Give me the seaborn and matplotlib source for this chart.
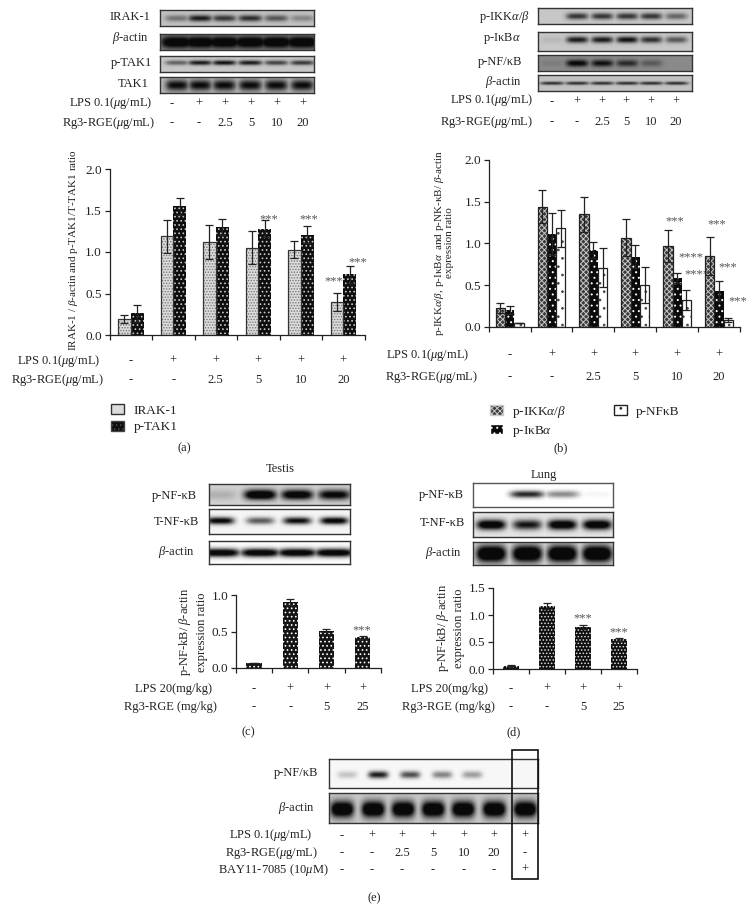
import numpy as np
import pandas as pd
import matplotlib
matplotlib.use("Agg")
import matplotlib.pyplot as plt
from matplotlib.patches import Patch, Rectangle
from matplotlib.transforms import Affine2D, blended_transform_factory
import seaborn as sns

W, H = 754, 924

# ---------- chart data ----------
a_groups = ["c0", "c1", "c2", "c3", "c4", "c5"]
a_irak = [0.19, 1.19, 1.12, 1.05, 1.03, 0.40]
a_irak_err = [0.05, 0.20, 0.20, 0.20, 0.10, 0.11]
a_ptak = [0.26, 1.55, 1.30, 1.28, 1.21, 0.73]
a_ptak_err = [0.10, 0.10, 0.10, 0.10, 0.10, 0.10]
a_star_x = [3.24, 4.19, 5.34, 4.78]
a_star_y = [1.39, 1.39, 0.88, 0.65]
a_star_txt = ["***", "***", "***", "***"]

b_groups = a_groups
b_ikk = [0.22, 1.44, 1.35, 1.07, 0.97, 0.85]
b_ikk_err = [0.06, 0.20, 0.21, 0.22, 0.19, 0.23]
b_ikb = [0.20, 1.11, 0.92, 0.84, 0.59, 0.43]
b_ikb_err = [0.05, 0.25, 0.10, 0.14, 0.06, 0.12]
b_nfk = [0.05, 1.18, 0.71, 0.50, 0.32, 0.08]
b_nfk_err = [0.00, 0.22, 0.23, 0.22, 0.12, 0.02]
b_star_x = [3.94, 4.95, 4.32, 4.46, 5.21, 5.45]
b_star_y = [1.26, 1.23, 0.83, 0.63, 0.71, 0.31]
b_star_txt = ["***", "***", "****", "****", "***", "***"]

c_groups = ["c0", "c1", "c2", "c3"]
c_vals = [0.07, 0.90, 0.51, 0.42]
c_err = [0.005, 0.04, 0.02, 0.02]
d_vals = [0.06, 1.17, 0.78, 0.55]
d_err = [0.005, 0.05, 0.03, 0.03]

# ---------- row labels ----------
lps6 = ["-", "+", "+", "+", "+", "+"]
rg6 = ["-", "-", "2.5", "5", "10", "20"]
lps4 = ["-", "+", "+", "+"]
rg4 = ["-", "-", "5", "25"]
lps7 = ["-", "+", "+", "+", "+", "+", "+"]
rg7 = ["-", "-", "2.5", "5", "10", "20", "-"]
bay7 = ["-", "-", "-", "-", "-", "-", "+"]
LPS_UG = r"LPS 0.1($\mu$g/mL)"
RG_UG = r"Rg3-RGE($\mu$g/mL)"

# ---------- blot lane intensities ----------
a_blot_irak = [0.40, 0.85, 0.70, 0.75, 0.55, 0.30]
a_blot_actin = [1.0, 1.0, 1.0, 1.0, 1.0, 1.0]
a_blot_ptak = [0.50, 0.85, 0.90, 0.85, 0.65, 0.70]
a_blot_tak = [0.85, 0.85, 0.85, 0.85, 0.85, 0.85]
b_blot_ikk = [0.0, 0.75, 0.75, 0.75, 0.75, 0.50]
b_blot_ikb = [0.08, 0.85, 0.85, 0.90, 0.75, 0.55]
b_blot_nfk = [0.10, 1.0, 0.90, 0.70, 0.35, 0.0]
b_blot_act = [0.70, 0.70, 0.70, 0.70, 0.70, 0.70]
c_blot_p = [0.12, 1.0, 0.90, 0.80]
c_blot_t = [0.90, 0.55, 0.85, 0.95]
c_blot_a = [0.95, 0.95, 0.95, 0.95]
d_blot_p = [0.0, 0.75, 0.40, 0.04]
d_blot_t = [1.0, 0.75, 1.0, 1.0]
d_blot_a = [1.0, 1.0, 1.0, 1.0]
e_blot_p = [0.20, 0.85, 0.65, 0.45, 0.35, 0.0, 0.0]
e_blot_a = [1.0, 1.0, 1.0, 1.0, 1.0, 1.0, 1.0]

sns.set_style("ticks")
plt.rcParams.update({
    "font.family": ["Liberation Serif", "DejaVu Serif"],
    "mathtext.fontset": "custom",
    "mathtext.rm": "Liberation Serif",
    "mathtext.it": "Liberation Serif:italic",
    "mathtext.bf": "Liberation Serif:bold",
    "hatch.linewidth": 0.7,
    "text.color": "#222222",
    "axes.labelcolor": "#222222",
})

fig = plt.figure(figsize=(W / 100, H / 100), dpi=100)
px = Affine2D().scale(1 / W, -1 / H).translate(0, 1) + fig.transFigure


def ax_px(x0, y0, x1, y1):
    return fig.add_axes([x0 / W, 1 - y1 / H, (x1 - x0) / W, (y1 - y0) / H])


def t(x, y, s, size=9, ha="center", va="center", **kw):
    return fig.text(x / W, 1 - y / H, s, fontsize=size, ha=ha, va=va, **kw)


def blot(box, centers, lanes, bg, sx, sy, gain=1.0, dy=0.0, edge="#333333"):
    x0, y0, x1, y1 = box
    ax = ax_px(x0, y0, x1, y1)
    xs = np.arange(x0, x1, 0.5)
    ys = np.arange(y0, y1, 0.5)
    X, Y = np.meshgrid(xs, ys)
    ymid = (y0 + y1) / 2 + dy
    dark = np.zeros_like(X)
    for c, v in zip(centers, lanes):
        dark = np.maximum(dark, v * gain * np.exp(-((X - c) / sx) ** 4 - ((Y - ymid) / sy) ** 2))
    img = bg * (1 - np.clip(dark, 0, 1)) + 0.04
    ax.imshow(img, cmap="gray", vmin=0, vmax=1, aspect="auto", interpolation="bilinear",
              extent=(x0, x1, y1, y0))
    ax.set_xticks([])
    ax.set_yticks([])
    for s in ax.spines.values():
        s.set_linewidth(1.0)
        s.set_color(edge)
    return ax


def bars(box, groups, series, errs, styles, width, ymax, yticks, stars=None, tick_size=9.5):
    x0, y0, x1, y1 = box
    ax = ax_px(x0, y0, x1, y1)
    names = list(series)
    df = pd.DataFrame({
        "group": list(groups) * len(names),
        "series": [n for n in names for _ in groups],
        "value": [v for n in names for v in series[n]],
    })
    pal = {n: styles[n]["face"] for n in names}
    sns.barplot(data=df, x="group", y="value", hue="series", order=list(groups), hue_order=names,
                palette=pal, saturation=1, width=width, gap=0, legend=False, ax=ax, errorbar=None)
    n_g = len(groups)
    patches = [p for p in ax.patches]
    for i, n in enumerate(names):
        st = styles[n]
        for j in range(n_g):
            p = patches[i * n_g + j]
            p.set_facecolor(st["face"])
            p.set_edgecolor(st["edge"])
            p.set_hatch(st["hatch"])
            p.set_linewidth(st["lw"])
            cx = p.get_x() + p.get_width() / 2
            ax.errorbar(cx, series[n][j], yerr=errs[n][j], color="#222222", lw=0.9,
                        capsize=2.6, capthick=0.9, zorder=5)
            if st.get("outline"):
                ax.add_patch(Rectangle((p.get_x(), 0), p.get_width(), p.get_height(), fill=False,
                                       ec=st["outline"], lw=0.9, zorder=4))
    ax.set_xlim(-0.5, n_g - 0.5)
    ax.set_ylim(0, ymax)
    ax.set_xticks(np.arange(-0.5, n_g, 1))
    ax.set_xticklabels([])
    ax.set_yticks(yticks)
    ax.set_yticklabels([f"{v:.1f}" for v in yticks], fontsize=tick_size)
    ax.set_xlabel("")
    ax.set_ylabel("")
    ax.patch.set_alpha(0)
    ax.tick_params(length=3.5, width=0.9, color="#222222", pad=2, labelcolor="#222222")
    sns.despine(ax=ax)
    for s in ("left", "bottom"):
        ax.spines[s].set_linewidth(0.9)
        ax.spines[s].set_color("#222222")
    if stars:
        for sx, sy, sv in zip(*stars):
            ax.text(sx, sy, sv, fontsize=9, ha="center", va="center", color="#555555", clip_on=False)
    return ax


def rows(ax, ys, values):
    tr = blended_transform_factory(ax.transData, px)
    for y, vals in zip(ys, values):
        for i, v in enumerate(vals):
            ax.text(i, y, v, fontsize=9, ha="center", va="center", transform=tr, clip_on=False)


def rowpx(xs, y, values):
    for x, v in zip(xs, values):
        t(x, y, v)


dark = dict(face="#0e0e0e", edge="#c8c8c8", hatch="....", lw=0)
light = dict(face="#dcdcdc", edge="#777777", hatch="......", lw=0, outline="#333333")
ikk = dict(face="#3a3a3a", edge="#c8c8c8", hatch="xxxxxx", lw=0, outline="#222222")
ikb = dict(face="#0a0a0a", edge="#ffffff", hatch="...", lw=0)
nfk = dict(face="#ffffff", edge="#444444", hatch="..", lw=0, outline="#222222")
cdot = dict(face="#141414", edge="#ffffff", hatch="....", lw=0)
ddot = dict(face="#0e0e0e", edge="#dddddd", hatch=".....", lw=0)

LEG = dict(frameon=False, fontsize=9.5, handlelength=1.0, handleheight=0.8, handletextpad=0.7,
           labelspacing=0.3, borderpad=0.1)

# ---------- (a) ----------
lanes_a = [177, 200, 224, 250, 276, 302]
blot((160, 10, 314, 26), lanes_a, a_blot_irak, 0.72, 12, 3.2, gain=1.1)
blot((160, 34, 314, 50), lanes_a, a_blot_actin, 0.55, 17, 6.5, gain=1.3)
blot((160, 56, 314, 72), lanes_a, a_blot_ptak, 0.74, 12, 2.4, gain=1.1, dy=-1.5)
blot((160, 77, 314, 93), lanes_a, a_blot_tak, 0.68, 11.5, 5.5, gain=1.2)
t(130, 17, "IRAK-1")
t(130, 38, r"$\beta$-actin")
t(131, 63, "p-TAK1")
t(133, 84, "TAK1")
t(152, 103, LPS_UG, ha="right")
t(155, 123, RG_UG, ha="right")
rowx = [172, 199, 225, 251, 277, 303]
rowpx(rowx, 104, lps6)
rowpx(rowx, 123, rg6)

ax_a = bars((109.5, 169, 364.5, 335), a_groups, {"IRAK-1": a_irak, "p-TAK1": a_ptak},
            {"IRAK-1": a_irak_err, "p-TAK1": a_ptak_err}, {"IRAK-1": light, "p-TAK1": dark},
            0.6, 2.0, [0, 0.5, 1.0, 1.5, 2.0], stars=(a_star_x, a_star_y, a_star_txt))
rows(ax_a, [361, 380], [lps6, rg6])
t(100, 361, LPS_UG, ha="right")
t(104, 380, RG_UG, ha="right")
t(73, 250, r"IRAK-1 / $\beta$-actin and p-TAK1/T-TAK1 ratio", size=8, rotation=90)
fig.legend(handles=[Patch(facecolor=light["face"], edgecolor="#333333", label="IRAK-1"),
                    Patch(facecolor=dark["face"], edgecolor="#444444", hatch="....", label="p-TAK1")],
           loc="upper left", bbox_to_anchor=(103 / W, 1 - 396 / H), **LEG)
t(184, 448, "(a)")

# ---------- (b) ----------
lanes_b = [552, 577, 602, 627, 651, 676]
blot((538, 8, 692, 24), lanes_b, b_blot_ikk, 0.74, 11, 3.2, gain=1.05)
blot((538, 32, 692, 51), lanes_b, b_blot_ikb, 0.74, 11, 3.2, gain=1.1, dy=-2)
blot((538, 55, 692, 71), lanes_b, b_blot_nfk, 0.50, 11, 3.4, gain=1.1)
blot((538, 75, 692, 91), lanes_b, b_blot_act, 0.72, 12, 1.6, gain=1.2)
t(504, 17, r"p-IKK$\alpha$/$\beta$")
t(502, 38, r"p-IκB$\alpha$")
t(500, 62, "p-NF/κB")
t(503, 82, r"$\beta$-actin")
t(533, 100, LPS_UG, ha="right")
t(533, 122, RG_UG, ha="right")
rowx = [552, 577, 602, 626, 651, 676]
rowpx(rowx, 102, lps6)
rowpx(rowx, 122, rg6)

ax_b = bars((488.7, 160, 740, 326.7), b_groups,
            {"p-IKK": b_ikk, "p-IkB": b_ikb, "p-NFkB": b_nfk},
            {"p-IKK": b_ikk_err, "p-IkB": b_ikb_err, "p-NFkB": b_nfk_err},
            {"p-IKK": ikk, "p-IkB": ikb, "p-NFkB": nfk},
            0.667, 2.0, [0, 0.5, 1.0, 1.5, 2.0], stars=(b_star_x, b_star_y, b_star_txt))
rows(ax_b, [355, 377], [lps6, rg6])
t(469, 355, LPS_UG, ha="right")
t(478, 377, RG_UG, ha="right")
t(439, 243, r"p-IKK$\alpha$/$\beta$, p-IκB$\alpha$  and p-NK-κB/ $\beta$-actin", size=8, rotation=90)
t(450, 243, "expression ratio", size=8, rotation=90)
fig.legend(handles=[Patch(facecolor=ikk["face"], edgecolor=ikk["edge"], hatch="xxxxxx", label=r"p-IKK$\alpha$/$\beta$"),
                    Patch(facecolor=ikb["face"], edgecolor=ikb["edge"], hatch="...", label=r"p-IκB$\alpha$"),
                    Patch(facecolor="#ffffff", edgecolor="#222222", hatch="..", label="p-NFκB")],
           loc="upper left", bbox_to_anchor=(482 / W, 1 - 396 / H), ncol=2, columnspacing=3.6, **LEG)
t(561, 448, "(b)")

# ---------- (c) ----------
lanes_c = [220, 260, 297, 334]
blot((209, 484, 350, 505), lanes_c, c_blot_p, 0.78, 16, 5.0, gain=1.4)
blot((209, 509, 350, 534), lanes_c, c_blot_t, 0.92, 14, 3.6, gain=1.2, dy=-1)
blot((209, 541, 350, 564), lanes_c, c_blot_a, 0.95, 20, 4.2, gain=1.3)
t(280, 469, "Testis", size=9)
t(174, 496, "p-NF-κB")
t(176, 522, "T-NF-κB")
t(176, 552, r"$\beta$-actin")
ax_c = bars((236, 595, 380.7, 668), c_groups, {"v": c_vals}, {"v": c_err}, {"v": cdot},
            0.42, 1.0, [0, 0.5, 1.0], stars=([2.98], [0.52], ["***"]))
rows(ax_c, [689, 707], [lps4, rg4])
t(212, 689, "LPS 20(mg/kg)", ha="right")
t(217, 707, "Rg3-RGE (mg/kg)", ha="right")
t(185, 632, r"p-NF-kB/ $\beta$-actin", size=9, rotation=90)
t(202, 632, "expression ratio", size=9, rotation=90)
t(248, 732, "(c)")

# ---------- (d) ----------
lanes_d = [491, 527, 562, 597]
blot((473, 483, 613, 507), lanes_d, d_blot_p, 0.97, 17, 3.6, gain=1.2, dy=-1, edge="#555555")
blot((473, 512, 613, 537), lanes_d, d_blot_t, 0.86, 14.5, 5.0, gain=1.3)
blot((473, 542, 613, 565), lanes_d, d_blot_a, 0.82, 15, 8.5, gain=1.5)
t(544, 475, "Lung", size=9)
t(441, 495, "p-NF-κB")
t(442, 523, "T-NF-κB")
t(443, 553, r"$\beta$-actin")
ax_d = bars((493, 588, 637, 669), c_groups, {"v": d_vals}, {"v": d_err}, {"v": ddot},
            0.42, 1.5, [0, 0.5, 1.0, 1.5], stars=([2.0, 2.98], [0.93, 0.67], ["***", "***"]))
rows(ax_d, [689, 707], [lps4, rg4])
t(488, 689, "LPS 20(mg/kg)", ha="right")
t(495, 707, "Rg3-RGE (mg/kg)", ha="right")
t(443, 628, r"p-NF-kB/ $\beta$-actin", size=9, rotation=90)
t(459, 628, "expression ratio", size=9, rotation=90)
t(514, 732, "(d)")

# ---------- (e) ----------
lanes_ep = [347, 378, 410, 442, 472, 495, 525]
lanes_ea = [342, 373, 403, 433, 463, 494, 525]
blot((329, 759, 538, 788), lanes_ep, e_blot_p, 0.93, 10, 3.6, gain=1.1, dy=1)
blot((329, 793, 538, 823), lanes_ea, e_blot_a, 0.74, 11.5, 8, gain=1.5, dy=1)
fig.add_artist(Rectangle((512, 750), 26, 129, transform=px, fill=False, ec="#111111", lw=1.2))
t(296, 773, "p-NF/κB")
t(296, 808, r"$\beta$-actin")
rowx = [342, 372, 402, 433, 464, 494, 525]
rowpx(rowx, 836, lps7)
rowpx(rowx, 853, rg7)
rowpx(rowx, 870, bay7)
t(312, 835, LPS_UG, ha="right")
t(318, 853, RG_UG, ha="right")
t(329, 870, r"BAY11-7085 (10$\mu$M)", ha="right")
t(374, 898, "(e)")

fig.savefig("out.png", dpi=100, facecolor="white")
